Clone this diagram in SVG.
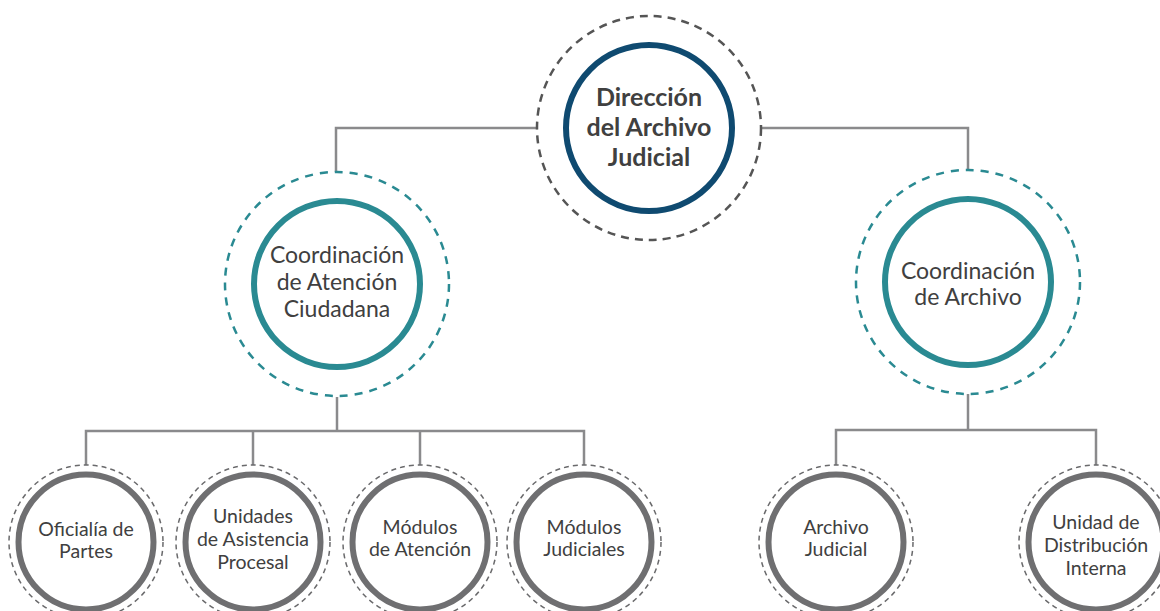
<svg xmlns="http://www.w3.org/2000/svg" width="1160" height="611" viewBox="0 0 1160 611">
<style>
.conn{fill:none;stroke:#8a8a8c;stroke-width:2.5}
.ring-top{fill:none;stroke:#555;stroke-width:2.5;stroke-dasharray:8 6}
.core-top{fill:#fff;stroke:#0f4a70;stroke-width:6}
.ring-teal{fill:none;stroke:#2a8a92;stroke-width:2.5;stroke-dasharray:8 7}
.core-teal{fill:#fff;stroke:#2a8a92;stroke-width:6}
.ring-gray{fill:none;stroke:#6a6a6c;stroke-width:1.5;stroke-dasharray:5 4}
.core-gray{fill:#fff;stroke:#6f6f71;stroke-width:6}
text{font-family:Lato,"Noto Sans","Liberation Sans",sans-serif;fill:#404040;text-anchor:middle}
.t1{font-size:25px;font-weight:bold}
.t2{font-size:23px}
.t3{font-size:19.5px}
</style>
<rect width="1160" height="611" fill="#fff"/>
<g id="connectors">
<polyline class="conn" points="538,128 336,128 336,172"/>
<polyline class="conn" points="761,128 968,128 968,169"/>
<polyline class="conn" points="337,397 337,431"/>
<polyline class="conn" points="86,465 86,431 584,431 584,465"/>
<line class="conn" x1="253" y1="431" x2="253" y2="465"/>
<line class="conn" x1="420" y1="431" x2="420" y2="465"/>
<polyline class="conn" points="968,394 968,430"/>
<polyline class="conn" points="836,465 836,430 1096,430 1096,465"/>
</g>
<g id="n-direccion">
<circle class="ring-top" cx="649" cy="128" r="112"/>
<circle class="core-top" cx="649" cy="128" r="83"/>
<text class="t1" x="649" y="106">Dirección</text>
<text class="t1" x="649" y="136">del Archivo</text>
<text class="t1" x="649" y="166">Judicial</text>
</g>
<g id="n-coord-atencion">
<circle class="ring-teal" cx="337" cy="284" r="112"/>
<circle class="core-teal" cx="337" cy="284" r="83"/>
<text class="t2" x="337" y="263">Coordinación</text>
<text class="t2" x="337" y="290">de Atención</text>
<text class="t2" x="337" y="317">Ciudadana</text>
</g>
<g id="n-coord-archivo">
<circle class="ring-teal" cx="968" cy="282" r="112"/>
<circle class="core-teal" cx="968" cy="282" r="83"/>
<text class="t2" x="968" y="279">Coordinación</text>
<text class="t2" x="968" y="305">de Archivo</text>
</g>
<g id="n-oficialia">
<circle class="ring-gray" cx="86" cy="542" r="77"/>
<circle class="core-gray" cx="86" cy="542" r="67.5"/>
<text class="t3" x="86" y="536">Oficialía de</text>
<text class="t3" x="86" y="558">Partes</text>
</g>
<g id="n-unidades">
<circle class="ring-gray" cx="253" cy="542" r="77"/>
<circle class="core-gray" cx="253" cy="542" r="67.5"/>
<text class="t3" x="253" y="523">Unidades</text>
<text class="t3" x="253" y="546">de Asistencia</text>
<text class="t3" x="253" y="569">Procesal</text>
</g>
<g id="n-modulos-atencion">
<circle class="ring-gray" cx="420" cy="542" r="77"/>
<circle class="core-gray" cx="420" cy="542" r="67.5"/>
<text class="t3" x="420" y="534">Módulos</text>
<text class="t3" x="420" y="556">de Atención</text>
</g>
<g id="n-modulos-judiciales">
<circle class="ring-gray" cx="584" cy="542" r="77"/>
<circle class="core-gray" cx="584" cy="542" r="67.5"/>
<text class="t3" x="584" y="534">Módulos</text>
<text class="t3" x="584" y="556">Judiciales</text>
</g>
<g id="n-archivo-judicial">
<circle class="ring-gray" cx="836" cy="542" r="77"/>
<circle class="core-gray" cx="836" cy="542" r="67.5"/>
<text class="t3" x="836" y="534">Archivo</text>
<text class="t3" x="836" y="556">Judicial</text>
</g>
<g id="n-unidad-distribucion">
<circle class="ring-gray" cx="1096" cy="542" r="77"/>
<circle class="core-gray" cx="1096" cy="542" r="67.5"/>
<text class="t3" x="1096" y="529">Unidad de</text>
<text class="t3" x="1096" y="552">Distribución</text>
<text class="t3" x="1096" y="575">Interna</text>
</g>
</svg>
